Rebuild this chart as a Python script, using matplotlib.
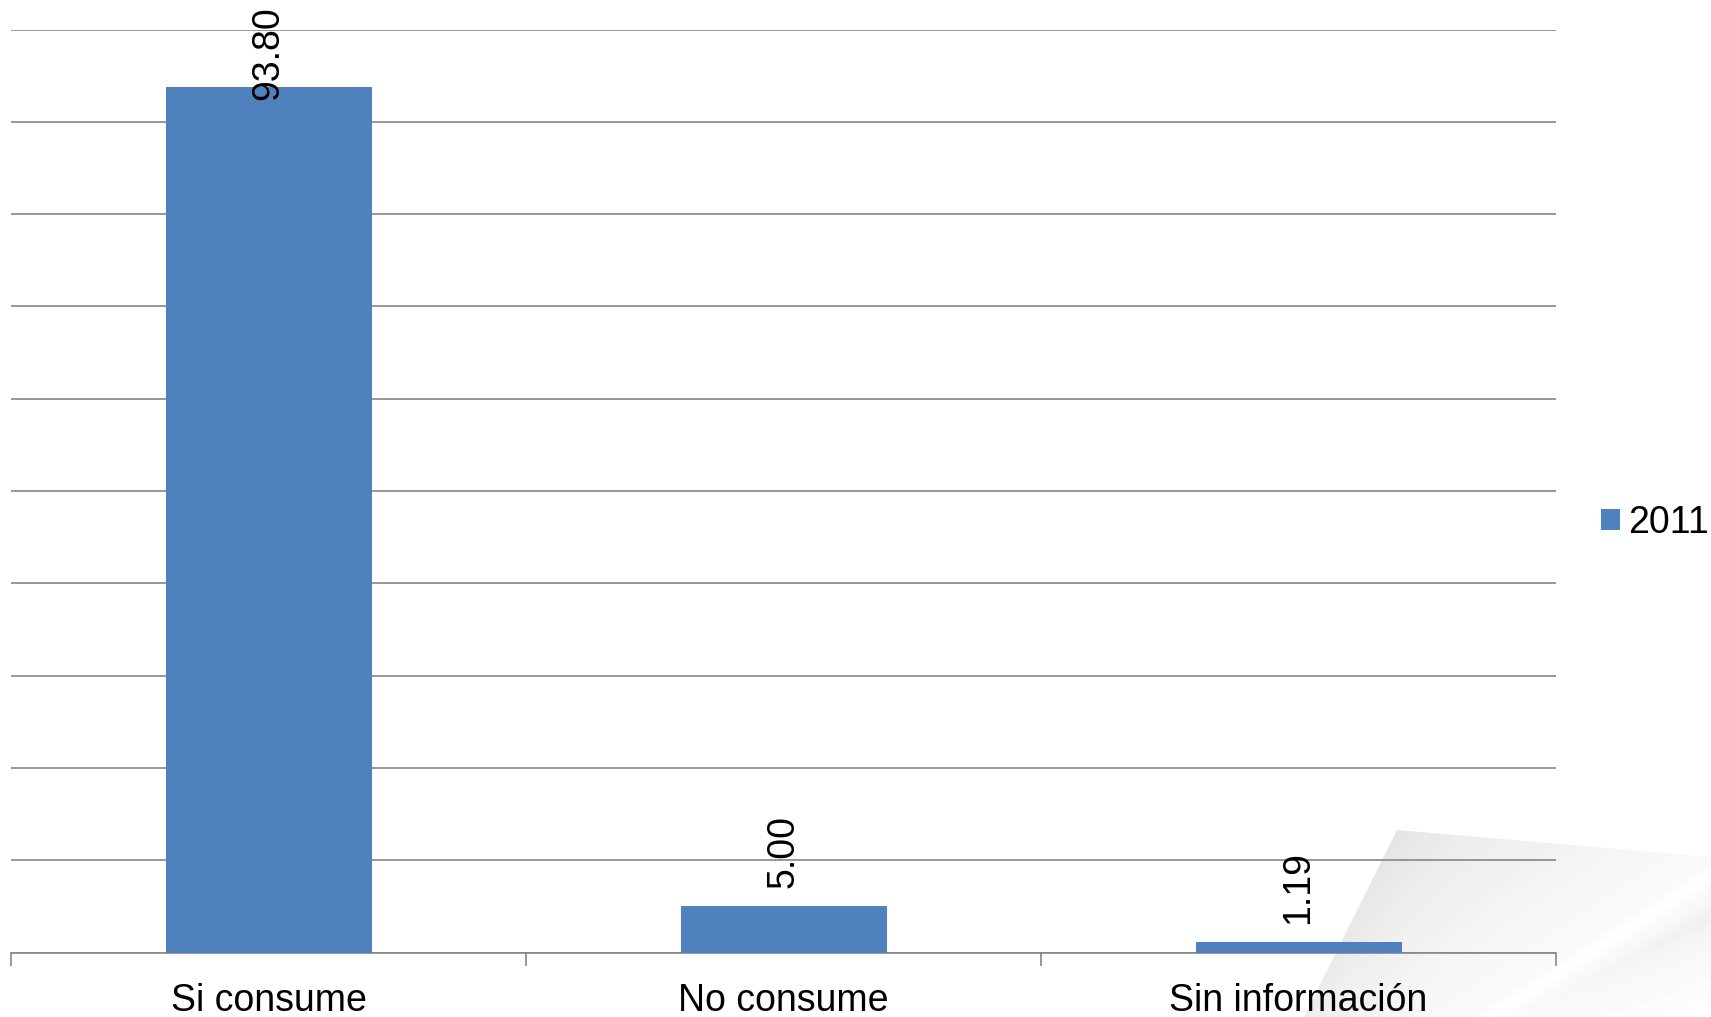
import numpy as np
import matplotlib
matplotlib.use('Agg')
import matplotlib.pyplot as plt
from matplotlib.patches import Polygon

# data
categories = ['Si consume', 'No consume', 'Sin información']
values = [93.80, 5.00, 1.19]
series_name = '2011'

BAR_COLOR = '#4F81BD'
GRID_COLOR = '#868686'
FS = 27

plt.rcParams['font.family'] = ['Liberation Sans', 'DejaVu Sans']

W, H = 1711, 1017
fig = plt.figure(figsize=(W / 100, H / 100), dpi=100, facecolor='white')

# page-curl decoration behind the chart
bg = fig.add_axes([0, 0, 1, 1], zorder=0)
bg.set_xlim(0, W)
bg.set_ylim(H, 0)
bg.axis('off')
yy, xx = np.mgrid[780:H, 1250:W].astype(float)
# fold line
p0 = np.array([1490.0, 1017.0])
u = np.array([221.0, -142.0]) / np.hypot(221, 142)
nrm = np.array([-u[1], u[0]])  # points down-right
d = (xx - p0[0]) * nrm[0] + (yy - p0[1]) * nrm[1]
t = np.clip(((xx - p0[0]) * u[0] + (yy - p0[1]) * u[1]) / 263.0, 0, 1)
# distance from the left edge of the curl
q0 = np.array([1397.0, 830.0])
v = np.array([-93.0, 187.0]) / np.hypot(93, 187)
e = np.abs((xx - q0[0]) * v[1] - (yy - q0[1]) * v[0])
page = 0.985 - 0.065 * np.clip(-d / 200, 0, 1) - 0.025 * np.exp(-e / 40)
shadow = 1.0 - 0.13 * np.exp(-d / 45) * t ** 0.8
g = np.where(d < 0, page, shadow)
g = np.maximum(g, 1.0 - 0.01 * np.abs(d) / 6)
img = bg.imshow(g, cmap='gray', vmin=0, vmax=1, extent=(1250, W, H, 780),
                interpolation='bilinear', aspect='auto')
curl = Polygon([(1397, 830), (1711, 857), (1711, 1017), (1304, 1017)],
               closed=True, transform=bg.transData, facecolor='none', edgecolor='none')
bg.add_patch(curl)
img.set_clip_path(curl)

ax = fig.add_axes([11 / W, 1 - 952.6 / H, (1556 - 11) / W, (952.6 - 29.5) / H], zorder=1)
ax.patch.set_alpha(0)

x = np.arange(len(categories))
ax.bar(x, values, width=0.4, color=BAR_COLOR, zorder=3)

ax.set_xlim(-0.5, len(categories) - 0.5)
ax.set_ylim(0, 100)
ax.set_yticks(np.arange(0, 101, 10))
ax.yaxis.grid(True, color=GRID_COLOR, linewidth=1.2, zorder=0)
ax.tick_params(axis='y', length=0, labelleft=False)

ax.set_xticks(x)
ax.set_xticklabels(categories, fontsize=FS)
ax.tick_params(axis='x', which='major', length=0, pad=22)
ax.set_xticks(np.arange(-0.5, len(categories), 1), minor=True)
ax.tick_params(axis='x', which='minor', length=9, width=1.2, color=GRID_COLOR, direction='out')

for s in ['top', 'right', 'left']:
    ax.spines[s].set_visible(False)
ax.spines['bottom'].set_color(GRID_COLOR)
ax.spines['bottom'].set_linewidth(1.2)

# value labels
for xi, v in zip(x, values):
    if v > 80:
        ax.annotate('%.2f' % v, xy=(xi, 100), xytext=(0, 17), textcoords='offset points',
                    rotation=90, ha='center', va='top', fontsize=FS, zorder=4)
    else:
        ax.annotate('%.2f' % v, xy=(xi, v), xytext=(0, 13), textcoords='offset points',
                    rotation=90, ha='center', va='bottom', fontsize=FS, zorder=4)

ax.bar([0], [0], color=BAR_COLOR, label=series_name)
leg = ax.legend(loc='center left', bbox_to_anchor=(1601 / W, 1 - 523 / H), bbox_transform=fig.transFigure,
                frameon=False, fontsize=FS, handlelength=0.5, handleheight=0.5, handletextpad=0.22,
                borderpad=0, borderaxespad=0)

fig.savefig('out.png', dpi=100, facecolor='white')
